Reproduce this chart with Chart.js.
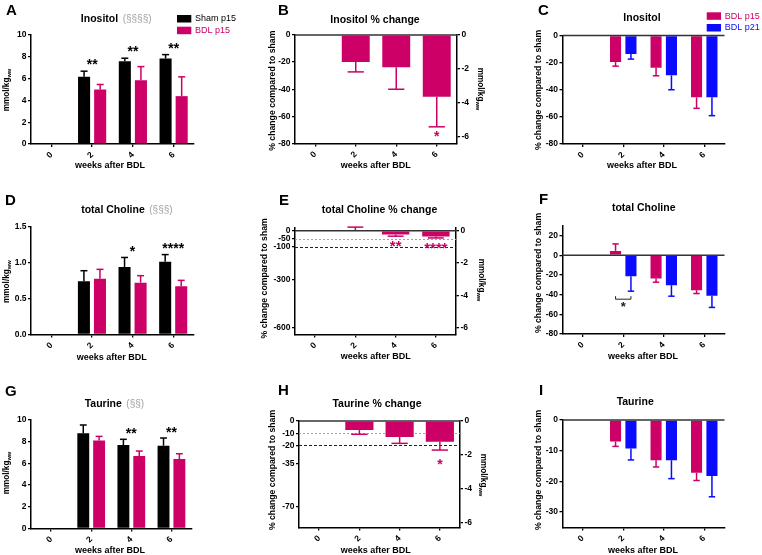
<!DOCTYPE html>
<html><head><meta charset="utf-8">
<script src="https://cdn.jsdelivr.net/npm/chart.js@4.4.1/dist/chart.umd.min.js"></script>
<style>
html,body{margin:0;padding:0;background:#fff;}
#wrap{position:relative;width:762px;height:555px;overflow:hidden;background:#fff;}
canvas{position:absolute;}
</style></head><body><div id="wrap">
<canvas id="cA" width="254" height="185" style="left:0px;top:0px"></canvas>
<canvas id="cB" width="254" height="185" style="left:254px;top:0px"></canvas>
<canvas id="cC" width="254" height="185" style="left:508px;top:0px"></canvas>
<canvas id="cD" width="254" height="185" style="left:0px;top:185px"></canvas>
<canvas id="cE" width="254" height="185" style="left:254px;top:185px"></canvas>
<canvas id="cF" width="254" height="185" style="left:508px;top:185px"></canvas>
<canvas id="cG" width="254" height="185" style="left:0px;top:370px"></canvas>
<canvas id="cH" width="254" height="185" style="left:254px;top:370px"></canvas>
<canvas id="cI" width="254" height="185" style="left:508px;top:370px"></canvas>
</div>
<script>
// ---------------- DATA ----------------
const weeks = ['0', '2', '4', '6'];

// A: Inositol concentration (mmol/kg ww)
const inositolSham = [null, 6.16, 7.59, 7.84];
const inositolShamErr = [null, 0.52, 0.28, 0.36];
const inositolBDL = [null, 5.00, 5.85, 4.39];
const inositolBDLErr = [null, 0.46, 1.25, 1.77];
const inositolStars = ['', '**', '**', '**'];

// B: Inositol % change
const inositolPct = [null, -19.9, -23.8, -45.6];
const inositolPctErr = [null, 7.3, 16.2, 22.1];
const inositolPctStars = ['', '', '', '*'];

// C: Inositol p15 vs p21
const inositolP15 = [null, -19.6, -23.8, -45.6];
const inositolP15Err = [null, 3.0, 5.9, 8.1];
const inositolP21 = [null, -13.7, -29.4, -45.6];
const inositolP21Err = [null, 3.7, 10.6, 13.5];

// D: total Choline concentration
const cholineSham = [null, 0.738, 0.937, 1.01];
const cholineShamErr = [null, 0.148, 0.133, 0.10];
const cholineBDL = [null, 0.775, 0.72, 0.669];
const cholineBDLErr = [null, 0.13, 0.097, 0.083];
const cholineStars = ['', '', '*', '****'];

// E: total Choline % change
const cholinePct = [null, 4.4, -23.6, -35.5];
const cholinePctErr = [null, 18, 10, 9];
const cholinePctStars = ['', '', '**', '****'];
const cholineRefLines = [-50, -100];

// F: total Choline p15 vs p21
const cholineP15 = [null, 4.4, -23.6, -35.5];
const cholineP15Err = [null, 7.1, 3.8, 3.4];
const cholineP21 = [null, -21.3, -30.4, -41.2];
const cholineP21Err = [null, 15.2, 11.2, 11.8];
const cholineP15vsP21 = ['', '*', '', ''];

// G: Taurine concentration
const taurineSham = [null, 8.77, 7.69, 7.63];
const taurineShamErr = [null, 0.77, 0.53, 0.71];
const taurineBDL = [null, 8.12, 6.68, 6.40];
const taurineBDLErr = [null, 0.37, 0.46, 0.49];
const taurineStars = ['', '', '**', '**'];

// H: Taurine % change
const taurinePct = [null, -7.4, -13.1, -17.0];
const taurinePctErr = [null, 3.5, 5.2, 6.8];
const taurinePctStars = ['', '', '', '*'];
const taurineRefLines = [-10, -20];

// I: Taurine p15 vs p21
const taurineP15 = [null, -7.0, -13.1, -17.2];
const taurineP15Err = [null, 1.6, 2.2, 2.5];
const taurineP21 = [null, -9.3, -13.1, -18.2];
const taurineP21Err = [null, 3.7, 6.0, 6.8];

// tick labels
const ticksConc10 = [0, 2, 4, 6, 8, 10];
const ticksPct80 = [0, -20, -40, -60, -80];
const ticksMmolRight = [0, -2, -4, -6];
const ticksCholineConc = [0, 0.5, 1.0, 1.5];
const ticksCholinePct = [0, -50, -100, -300, -600];
const ticksCholineCompare = [20, 0, -20, -40, -60, -80];
const ticksTaurinePct = [0, -10, -20, -35, -70];
const ticksTaurineCompare = [0, -10, -20, -30];

// ---------------- STYLE ----------------
const FONT = '"Liberation Sans", Arial, Helvetica, sans-serif';
const BLACK = '#000000';
const MAG = '#cc0066';
const BLUE = '#0a0aff';
const W = 254, H = 185;
const PCT_TITLE = '% change compared to sham';

function yScale(o) {
  return {
    type: 'linear', position: o.position || 'left', min: o.min, max: o.max,
    afterBuildTicks: s => { s.ticks = o.ticks.map(v => ({ value: v })); },
    afterFit: s => { s.width = o.width; },
    grid: { drawOnChartArea: false, drawTicks: true, tickLength: 3, color: '#000', lineWidth: 1.3 },
    border: { display: true, color: '#000', width: 1.5 },
    ticks: { autoSkip: false, padding: 1.5, color: '#000',
      font: { family: FONT, size: 8.5, weight: 'bold' },
      callback: o.fmt || (v => String(v)) }
  };
}
function xScale(height) {
  return {
    type: 'category', offset: true,
    afterFit: s => { s.height = height; },
    grid: { offset: false, drawOnChartArea: false, drawTicks: true, tickLength: 3, color: '#000', lineWidth: 1.3 },
    border: { display: true, color: '#000', width: 1.5 },
    ticks: { autoSkip: false, minRotation: 45, maxRotation: 45, padding: 3, color: '#000',
      font: { family: FONT, size: 8.5, weight: 'bold' } }
  };
}

function centeredText(ctx, t, x, yc, font, color) {
  ctx.font = font; ctx.fillStyle = color; ctx.textAlign = 'center'; ctx.textBaseline = 'alphabetic';
  const m = ctx.measureText(t);
  const base = yc + (m.actualBoundingBoxAscent - m.actualBoundingBoxDescent) / 2;
  ctx.fillText(t, x, base);
}
function drawUnit(ctx, cx, cy, rot, size) {
  ctx.save(); ctx.translate(cx, cy); ctx.rotate(rot);
  const f1 = `bold ${size}px ${FONT}`, f2 = `bold ${(size * 0.7).toFixed(1)}px ${FONT}`;
  ctx.font = f1; const w1 = ctx.measureText('mmol/kg').width;
  ctx.font = f2; const w2 = ctx.measureText('ww').width;
  const x0 = -(w1 + w2) / 2;
  ctx.fillStyle = '#000'; ctx.textBaseline = 'middle'; ctx.textAlign = 'left';
  ctx.font = f1; ctx.fillText('mmol/kg', x0, 0);
  ctx.font = f2; ctx.fillText('ww', x0 + w1, size * 0.35);
  ctx.restore();
}
function drawRotText(ctx, t, cx, cy, rot, font) {
  ctx.save(); ctx.translate(cx, cy); ctx.rotate(rot);
  ctx.font = font; ctx.fillStyle = '#000'; ctx.textAlign = 'center'; ctx.textBaseline = 'middle';
  ctx.fillText(t, 0, 0); ctx.restore();
}
function line(ctx, x1, y1, x2, y2) { ctx.beginPath(); ctx.moveTo(x1, y1); ctx.lineTo(x2, y2); ctx.stroke(); }

function deco(spec) {
  return {
    id: 'deco_' + spec.id,
    beforeDatasetsDraw(chart) {
      const { ctx, chartArea: a } = chart; const y = chart.scales.y;
      (spec.refLines || []).forEach((v, i) => {
        const py = Math.round(y.getPixelForValue(v)) + 0.5;
        ctx.save(); ctx.strokeStyle = i === 0 ? '#a0a0a0' : '#222';
        ctx.lineWidth = 1; ctx.setLineDash(i === 0 ? [2, 2] : [3, 2]);
        line(ctx, a.left, py, a.right, py); ctx.restore();
      });
    },
    afterDatasetsDraw(chart) {
      const { ctx, chartArea: a } = chart; const y = chart.scales.y; const x = chart.scales.x;
      const ends = [];
      spec.series.forEach((s, i) => {
        const meta = chart.getDatasetMeta(i);
        ends[i] = [];
        meta.data.forEach((bar, j) => {
          const v = s.data[j], e = s.err[j];
          if (v == null || e == null) return;
          const end = v >= 0 ? v + e : v - e;
          const pe = y.getPixelForValue(end);
          ends[i][j] = pe;
          ctx.save(); ctx.strokeStyle = s.color; ctx.lineWidth = 1.5;
          line(ctx, bar.x, bar.y, bar.x, pe);
          const hw = bar.width * 0.29;
          line(ctx, bar.x - hw, pe, bar.x + hw, pe);
          ctx.restore();
        });
      });
      if (spec.zeroLine) {
        const p0 = y.getPixelForValue(0);
        ctx.save(); ctx.strokeStyle = '#333'; ctx.lineWidth = 1.5;
        line(ctx, a.left, p0, a.right, p0); ctx.restore();
      }
      if (spec.stars) {
        spec.stars.forEach((t, j) => {
          if (!t) return;
          const ps = ends.map(r => r[j]).filter(v => v != null);
          const yc = spec.starDir === 'up' ? Math.min(...ps) - spec.starGap : Math.max(...ps) + spec.starGap;
          centeredText(ctx, t, x.getPixelForValue(j), yc, `bold ${spec.starSize}px ${FONT}`, spec.starColor);
        });
      }
      if (spec.bracket) {
        spec.bracket.forEach((t, j) => {
          if (!t) return;
          const b0 = chart.getDatasetMeta(0).data[j], b1 = chart.getDatasetMeta(1).data[j];
          const yb = Math.max(ends[0][j], ends[1][j]) + 8;
          ctx.save(); ctx.strokeStyle = '#222'; ctx.lineWidth = 1;
          ctx.beginPath(); ctx.moveTo(b0.x, yb - 3); ctx.lineTo(b0.x, yb); ctx.lineTo(b1.x, yb); ctx.lineTo(b1.x, yb - 3); ctx.stroke();
          ctx.restore();
          centeredText(ctx, t, (b0.x + b1.x) / 2, yb + 5.5, `bold 13px ${FONT}`, '#222');
        });
      }
    },
    afterDraw(chart) {
      const ctx = chart.ctx;
      ctx.save();
      ctx.font = `bold 15px ${FONT}`; ctx.fillStyle = '#000'; ctx.textAlign = 'left'; ctx.textBaseline = 'alphabetic';
      ctx.fillText(spec.letter.t, spec.letter.x, spec.letter.y);
      const tf = `bold 10.5px ${FONT}`;
      ctx.font = tf; ctx.textAlign = 'center';
      ctx.fillText(spec.title.main, spec.title.cx, spec.title.y);
      if (spec.title.sub) {
        const w = ctx.measureText(spec.title.main).width;
        ctx.font = `10px ${FONT}`; ctx.fillStyle = '#a3a3a3'; ctx.textAlign = 'left';
        ctx.fillText(spec.title.sub, spec.title.cx + w / 2 + 4.5, spec.title.y);
      }
      ctx.font = `bold 9px ${FONT}`; ctx.fillStyle = '#000'; ctx.textAlign = 'center';
      ctx.fillText('weeks after BDL', spec.xTitle.cx, spec.xTitle.y);
      ctx.restore();
      if (spec.yTitle.unit) drawUnit(ctx, spec.yTitle.cx, spec.yTitle.cy, -Math.PI / 2, 8.2);
      else drawRotText(ctx, PCT_TITLE, spec.yTitle.cx, spec.yTitle.cy, -Math.PI / 2, `bold 8.7px ${FONT}`);
      if (spec.y2Title) drawUnit(ctx, spec.y2Title.cx, spec.y2Title.cy, Math.PI / 2, 8.2);
      if (spec.legend) {
        spec.series.forEach((s, i) => {
          const by = spec.legend.y + i * 11.7;
          ctx.save(); ctx.fillStyle = s.color;
          ctx.fillRect(spec.legend.x, by, 14.3, 7.5);
          ctx.font = `9px ${FONT}`; ctx.textAlign = 'left'; ctx.textBaseline = 'middle';
          ctx.fillText(s.label, spec.legend.x + 18, by + 4);
          ctx.restore();
        });
      }
    }
  };
}

function panel(id, area, spec) {
  spec.id = id;
  const scales = {
    x: xScale(H - area.b),
    y: yScale({ min: spec.y.min, max: spec.y.max, ticks: spec.y.ticks, width: area.l, fmt: spec.y.fmt })
  };
  if (spec.y2) scales.y2 = yScale({ min: spec.y2.min, max: spec.y2.max, ticks: spec.y2.ticks, width: W - area.r, position: 'right' });
  new Chart(document.getElementById(id), {
    type: 'bar',
    data: {
      labels: weeks,
      datasets: spec.series.map(s => ({
        label: s.label, data: s.data, backgroundColor: s.color, borderWidth: 0,
        categoryPercentage: spec.cp, barPercentage: spec.bp, yAxisID: 'y', xAxisID: 'x'
      }))
    },
    options: {
      responsive: false, animation: false, devicePixelRatio: 1, events: [],
      layout: { padding: { top: area.t, left: 0, bottom: 0, right: spec.y2 ? 0 : W - area.r } },
      plugins: { legend: { display: false }, tooltip: { enabled: false }, title: { display: false } },
      scales
    },
    plugins: [deco(spec)]
  });
}

// ---------------- PANELS ----------------
panel('cA', { l: 31, r: 194, t: 35, b: 144 }, {
  series: [
    { label: 'Sham p15', data: inositolSham, err: inositolShamErr, color: BLACK },
    { label: 'BDL p15', data: inositolBDL, err: inositolBDLErr, color: MAG }],
  y: { min: 0, max: 10, ticks: ticksConc10 }, cp: 0.79, bp: 0.75,
  stars: inositolStars, starDir: 'up', starGap: 9, starSize: 14, starColor: '#000',
  letter: { t: 'A', x: 6, y: 15 }, title: { main: 'Inositol', sub: '(§§§§)', cx: 99.5, y: 22.3 },
  xTitle: { cx: 110, y: 167.5 }, yTitle: { unit: true, cx: 7, cy: 90 }, legend: { x: 177, y: 15 }
});
panel('cB', { l: 41, r: 203, t: 35, b: 143.5 }, {
  series: [{ label: 'BDL p15', data: inositolPct, err: inositolPctErr, color: MAG }],
  y: { min: -80, max: 0, ticks: ticksPct80 }, y2: { min: -6.43, max: 0, ticks: ticksMmolRight },
  cp: 0.69, bp: 1, zeroLine: true,
  stars: inositolPctStars, starDir: 'down', starGap: 7.5, starSize: 14, starColor: MAG,
  letter: { t: 'B', x: 24, y: 15 }, title: { main: 'Inositol % change', cx: 121, y: 22.7 },
  xTitle: { cx: 121.7, y: 167.5 }, yTitle: { cx: 19, cy: 90.7 }, y2Title: { cx: 226, cy: 89 }
});
panel('cC', { l: 54.5, r: 216.5, t: 35.5, b: 144 }, {
  series: [
    { label: 'BDL p15', data: inositolP15, err: inositolP15Err, color: MAG },
    { label: 'BDL p21', data: inositolP21, err: inositolP21Err, color: BLUE }],
  y: { min: -80, max: 0, ticks: ticksPct80 }, cp: 0.76, bp: 0.72, zeroLine: true,
  letter: { t: 'C', x: 30, y: 15 }, title: { main: 'Inositol', cx: 134, y: 20.7 },
  xTitle: { cx: 134, y: 167.5 }, yTitle: { cx: 30.7, cy: 90 }, legend: { x: 198.7, y: 12.3 }
});
panel('cD', { l: 31, r: 193.5, t: 41.5, b: 149.5 }, {
  series: [
    { label: 'Sham p15', data: cholineSham, err: cholineShamErr, color: BLACK },
    { label: 'BDL p15', data: cholineBDL, err: cholineBDLErr, color: MAG }],
  y: { min: 0, max: 1.5, ticks: ticksCholineConc, fmt: v => Number(v).toFixed(1) }, cp: 0.79, bp: 0.75,
  stars: cholineStars, starDir: 'up', starGap: 8.5, starSize: 14, starColor: '#000',
  letter: { t: 'D', x: 5, y: 20 }, title: { main: 'total Choline', sub: '(§§§)', cx: 113, y: 27.7 },
  xTitle: { cx: 111.7, y: 174.8 }, yTitle: { unit: true, cx: 7, cy: 96.7 }
});
panel('cE', { l: 41, r: 202, t: 42.5, b: 149.5 }, {
  series: [{ label: 'BDL p15', data: cholinePct, err: cholinePctErr, color: MAG }],
  y: { min: -641, max: 20, ticks: ticksCholinePct }, y2: { min: -6.41, max: 0.2, ticks: ticksMmolRight },
  cp: 0.68, bp: 1, zeroLine: true, refLines: cholineRefLines,
  stars: cholinePctStars, starDir: 'down', starGap: 8, starSize: 15, starColor: MAG,
  letter: { t: 'E', x: 25, y: 20 }, title: { main: 'total Choline % change', cx: 125.5, y: 28 },
  xTitle: { cx: 121.7, y: 174.3 }, yTitle: { cx: 10.7, cy: 93.3 }, y2Title: { cx: 227, cy: 95 }
});
panel('cF', { l: 54.5, r: 216.5, t: 40.7, b: 149 }, {
  series: [
    { label: 'BDL p15', data: cholineP15, err: cholineP15Err, color: MAG },
    { label: 'BDL p21', data: cholineP21, err: cholineP21Err, color: BLUE }],
  y: { min: -80, max: 30, ticks: ticksCholineCompare }, cp: 0.76, bp: 0.72, zeroLine: true,
  bracket: cholineP15vsP21,
  letter: { t: 'F', x: 31, y: 19 }, title: { main: 'total Choline', cx: 135.7, y: 25.7 },
  xTitle: { cx: 135, y: 174.3 }, yTitle: { cx: 30.7, cy: 88 }
});
panel('cG', { l: 31, r: 191.5, t: 50, b: 158.5 }, {
  series: [
    { label: 'Sham p15', data: taurineSham, err: taurineShamErr, color: BLACK },
    { label: 'BDL p15', data: taurineBDL, err: taurineBDLErr, color: MAG }],
  y: { min: 0, max: 10, ticks: ticksConc10 }, cp: 0.79, bp: 0.75,
  stars: taurineStars, starDir: 'up', starGap: 8.5, starSize: 14, starColor: '#000',
  letter: { t: 'G', x: 5, y: 26 }, title: { main: 'Taurine', sub: '(§§)', cx: 103.3, y: 36.7 },
  xTitle: { cx: 110, y: 182.5 }, yTitle: { unit: true, cx: 7, cy: 103 }
});
panel('cH', { l: 45, r: 206, t: 51, b: 157.5 }, {
  series: [{ label: 'BDL p15', data: taurinePct, err: taurinePctErr, color: MAG }],
  y: { min: -87.2, max: 0, ticks: ticksTaurinePct }, y2: { min: -6.27, max: 0, ticks: ticksMmolRight },
  cp: 0.7, bp: 1, zeroLine: true, refLines: taurineRefLines,
  stars: taurinePctStars, starDir: 'down', starGap: 12, starSize: 14, starColor: MAG,
  letter: { t: 'H', x: 24, y: 25 }, title: { main: 'Taurine % change', cx: 123, y: 36.7 },
  xTitle: { cx: 121.7, y: 182.8 }, yTitle: { cx: 18.3, cy: 100 }, y2Title: { cx: 229, cy: 105 }
});
panel('cI', { l: 54.5, r: 216.5, t: 50, b: 157.5 }, {
  series: [
    { label: 'BDL p15', data: taurineP15, err: taurineP15Err, color: MAG },
    { label: 'BDL p21', data: taurineP21, err: taurineP21Err, color: BLUE }],
  y: { min: -35, max: 0, ticks: ticksTaurineCompare }, cp: 0.76, bp: 0.72, zeroLine: true,
  letter: { t: 'I', x: 31, y: 25 }, title: { main: 'Taurine', cx: 127.2, y: 34.7 },
  xTitle: { cx: 135, y: 182.8 }, yTitle: { cx: 30.7, cy: 100 }
});
</script>
</body></html>
